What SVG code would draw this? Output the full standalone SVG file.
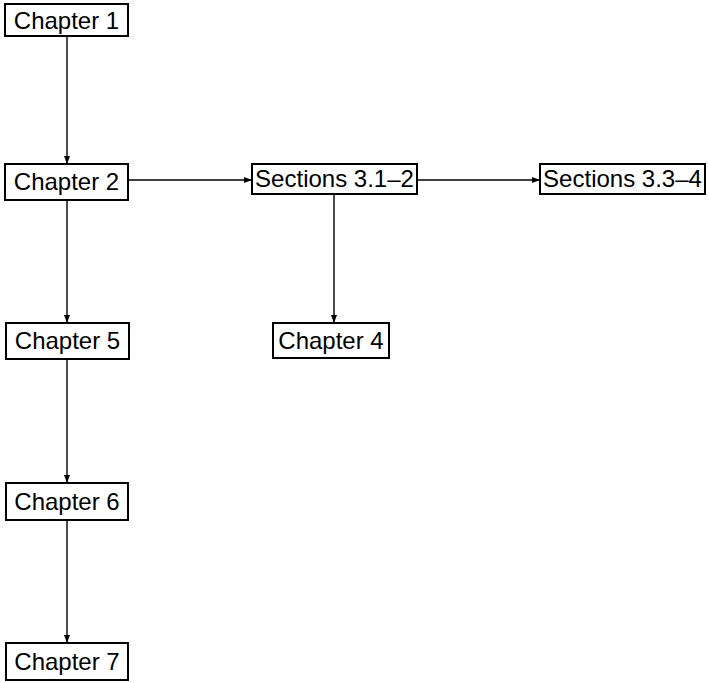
<svg xmlns="http://www.w3.org/2000/svg" width="709" height="683" viewBox="0 0 709 683">
  <style>
    .box { fill: #fff; stroke: #000; stroke-width: 2; }
    .lbl { font-family: "Liberation Sans", Arial, sans-serif; font-size: 24px; fill: #000; text-anchor: middle; }
    .edge { fill: none; stroke: #000; stroke-width: 1.4; marker-end: url(#arrow); }
  </style>
  <defs>
    <marker id="arrow" markerUnits="userSpaceOnUse" markerWidth="9" markerHeight="6" refX="8" refY="3" orient="auto">
      <path d="M0,0 L8,3 L0,6 Z" fill="#000"/>
    </marker>
  </defs>
  <rect width="709" height="683" fill="#fff"/>

  <g id="connectors">
    <line class="edge" x1="67" y1="36" x2="67" y2="164"/>
    <line class="edge" x1="67" y1="200" x2="67" y2="323"/>
    <line class="edge" x1="67" y1="359" x2="67" y2="483"/>
    <line class="edge" x1="67" y1="520" x2="67" y2="643"/>
    <line class="edge" x1="128" y1="180" x2="252" y2="180"/>
    <line class="edge" x1="417" y1="180" x2="540" y2="180"/>
    <line class="edge" x1="334" y1="194" x2="334" y2="323"/>
  </g>

  <g id="ch1">
    <rect class="box" x="5" y="4" width="123" height="32"/>
    <text class="lbl" x="66.5" y="29">Chapter 1</text>
  </g>
  <g id="ch2">
    <rect class="box" x="5" y="164" width="123" height="36"/>
    <text class="lbl" x="66.5" y="190">Chapter 2</text>
  </g>
  <g id="sec31">
    <rect class="box" x="252" y="164" width="165" height="30"/>
    <text class="lbl" x="334.5" y="187">Sections 3.1–2</text>
  </g>
  <g id="sec33">
    <rect class="box" x="540" y="164" width="165" height="30"/>
    <text class="lbl" x="622.5" y="187">Sections 3.3–4</text>
  </g>
  <g id="ch5">
    <rect class="box" x="6" y="323" width="123" height="36"/>
    <text class="lbl" x="67.5" y="349">Chapter 5</text>
  </g>
  <g id="ch4">
    <rect class="box" x="273" y="323" width="116" height="35"/>
    <text class="lbl" x="331" y="349">Chapter 4</text>
  </g>
  <g id="ch6">
    <rect class="box" x="6" y="483" width="122" height="37"/>
    <text class="lbl" x="67" y="510">Chapter 6</text>
  </g>
  <g id="ch7">
    <rect class="box" x="6" y="643" width="122" height="37"/>
    <text class="lbl" x="67" y="670">Chapter 7</text>
  </g>
</svg>
